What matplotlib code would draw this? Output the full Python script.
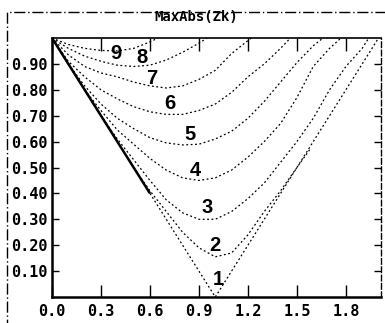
import matplotlib
matplotlib.use('Agg')
import matplotlib.pyplot as plt
from matplotlib.patches import Rectangle

# curves, one per k
x1 = [0.0, 0.6, 1.0, 2.0]
y1 = [1.0, 0.4, 0.0, 1.0]

x2 = [0.0, 0.3, 0.5, 0.6, 0.7, 0.8, 0.9, 1.0, 1.1, 1.2, 1.3, 1.4, 1.5, 1.58]
y2 = [1.0, 0.70, 0.50, 0.41, 0.33, 0.25, 0.19, 0.155, 0.17, 0.24, 0.33, 0.41, 0.50, 0.57]

x3 = [0.0, 0.1, 0.2, 0.3, 0.4, 0.5, 0.6, 0.7, 0.8, 0.9, 1.0, 1.1, 1.2, 1.3, 1.4, 1.5, 1.6, 1.7, 1.8, 1.9, 1.94]
y3 = [1.0, 0.90, 0.80, 0.70, 0.61, 0.53, 0.45, 0.375, 0.325, 0.30, 0.30, 0.33, 0.38, 0.44, 0.52, 0.60, 0.69, 0.80, 0.89, 0.96, 1.0]

x4 = [0.0, 0.1, 0.2, 0.3, 0.4, 0.5, 0.6, 0.7, 0.8, 0.9, 1.0, 1.1, 1.2, 1.3, 1.4, 1.5, 1.6, 1.7, 1.77]
y4 = [1.0, 0.90, 0.80, 0.72, 0.645, 0.59, 0.535, 0.49, 0.46, 0.45, 0.46, 0.49, 0.54, 0.60, 0.67, 0.77, 0.89, 0.96, 1.0]

x5 = [0.0, 0.1, 0.2, 0.3, 0.4, 0.5, 0.6, 0.7, 0.8, 0.9, 1.0, 1.1, 1.2, 1.3, 1.4, 1.5, 1.6, 1.66]
y5 = [1.0, 0.90, 0.815, 0.745, 0.69, 0.65, 0.615, 0.595, 0.587, 0.59, 0.61, 0.64, 0.69, 0.755, 0.83, 0.905, 0.97, 1.0]

x6 = [0.0, 0.1, 0.2, 0.3, 0.4, 0.5, 0.6, 0.7, 0.8, 0.9, 1.0, 1.1, 1.2, 1.3, 1.4, 1.46]
y6 = [1.0, 0.91, 0.85, 0.80, 0.765, 0.735, 0.715, 0.705, 0.705, 0.72, 0.745, 0.79, 0.85, 0.90, 0.96, 1.0]

x7 = [0.0, 0.1, 0.2, 0.3, 0.4, 0.5, 0.6, 0.7, 0.8, 0.9, 1.0, 1.1, 1.2, 1.22]
y7 = [1.0, 0.935, 0.89, 0.865, 0.85, 0.83, 0.815, 0.807, 0.815, 0.84, 0.875, 0.94, 0.99, 1.0]

x8 = [0.0, 0.1, 0.2, 0.3, 0.4, 0.5, 0.6, 0.7, 0.8, 0.9, 0.95]
y8 = [1.0, 0.96, 0.93, 0.91, 0.895, 0.89, 0.895, 0.915, 0.945, 0.98, 1.0]

x9 = [0.0, 0.1, 0.2, 0.3, 0.4, 0.5, 0.6, 0.65]
y9 = [1.0, 0.975, 0.96, 0.952, 0.95, 0.96, 0.985, 1.0]

curve_x = [x1, x2, x3, x4, x5, x6, x7, x8, x9]
curve_y = [y1, y2, y3, y4, y5, y6, y7, y8, y9]
curve_names = ['1', '2', '3', '4', '5', '6', '7', '8', '9']

xticks = [0.0, 0.3, 0.6, 0.9, 1.2, 1.5, 1.8]
yticks = [0.10, 0.20, 0.30, 0.40, 0.50, 0.60, 0.70, 0.80, 0.90]
title = 'MaxAbs(Zk)'

# where the numbers sit (data coords)
label_pos = [(1.02, 0.066), (1.0, 0.20), (0.95, 0.344), (0.875, 0.49), (0.845, 0.629),
             (0.72, 0.749), (0.61, 0.842), (0.55, 0.923), (0.39, 0.942)]

fig = plt.figure(figsize=(3.85, 3.23), dpi=100)
ax = fig.add_axes([52/385, 26/323, 329/385, 259/323])

for xs, ys in zip(curve_x, curve_y):
	ax.plot(xs, ys, color='black', lw=0.9, ls=(0, (1.5, 2)))
# the shared start of the curves looks solid and heavy
ax.plot(x1[:2], y1[:2], color='black', lw=1.8, ls='-', solid_capstyle='butt')

for name, (px, py) in zip(curve_names, label_pos):
	ax.text(px, py, name, ha='center', va='center', fontsize=14.5, fontweight='bold',
		family='Liberation Sans', color='black')

ax.set_xlim(0, 2.015)
ax.set_ylim(0, 1.0)
ax.set_xticks(xticks)
ax.set_xticklabels(['%.1f' % t for t in xticks])
ax.set_yticks(yticks)
ax.set_yticklabels(['%.2f' % t for t in yticks])
ax.tick_params(axis='x', direction='in', length=9, width=1, top=True, pad=5)
ax.tick_params(axis='y', direction='in', length=5, width=1, right=True, pad=3)
for lab in ax.get_xticklabels() + ax.get_yticklabels():
	lab.set_family('DejaVu Sans Mono')
	lab.set_fontweight('bold')
	lab.set_fontsize(11)

ax.spines['left'].set_linewidth(1.8)
ax.spines['bottom'].set_linewidth(1.8)
ax.spines['top'].set_linewidth(1.2)
ax.spines['right'].set_linewidth(1.0)
ax.spines['right'].set_linestyle((0, (4, 2)))

fig.text(0.51, 1 - 17/323, title, ha='center', va='center', family='DejaVu Sans Mono',
	fontsize=10, fontweight='bold')

# dash-dot border round the whole page (right and bottom edges fall off the scan)
fig.patches.append(Rectangle((7/385, -0.1), 1.1, 1.1 - 12/323, transform=fig.transFigure,
	fill=False, lw=1.0, ls=(0, (8, 2, 1, 2)), ec='black'))

fig.savefig('out.png', dpi=100)
